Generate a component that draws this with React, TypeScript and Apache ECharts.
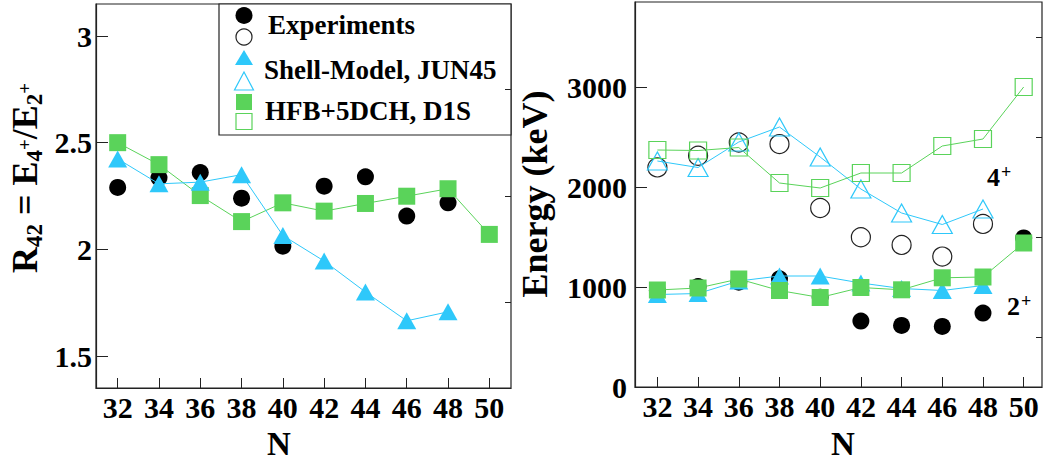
import React, { useEffect, useRef } from 'react';
import * as echarts from 'echarts';

const FONT = 'Liberation Serif';
const CYAN = '#2ec8fa';
const GREEN = '#5ad35a';

// Neutron numbers
const N = [32, 34, 36, 38, 40, 42, 44, 46, 48, 50];
const xTicks = [32, 34, 36, 38, 40, 42, 44, 46, 48, 50];

// Left panel: R42 = E(4+)/E(2+)
const r42Exp = [2.29, 2.335, 2.36, 2.24, 2.015, 2.296, 2.34, 2.156, 2.218, null];
const r42SM = [2.424, 2.307, 2.315, 2.35, 2.065, 1.945, 1.8, 1.665, 1.707, null];
const r42HFB = [2.5, 2.397, 2.252, 2.13, 2.218, 2.179, 2.215, 2.249, 2.284, 2.07];
const r42Major = [1.5, 2, 2.5, 3];
const r42Minor = [1.75, 2.25, 2.75];

// Right panel: energies (keV)
const e2Exp = [965, 1005, 1048, 1082, 898, 659, 616, 606, 739, 1491];
const e4Exp = [2196, 2312, 2445, 2429, 1790, 1497, 1421, 1304, 1631, null];
const e2SM = [925, 935, 1060, 1110, 1110, 1040, 985, 965, 1015, null];
const e4SM = [2260, 2195, 2450, 2600, 2300, 1980, 1740, 1625, 1780, null];
const e2HFB = [970, 990, 1080, 965, 895, 995, 972, 1092, 1100, 1440];
const e4HFB = [2370, 2365, 2395, 2040, 1990, 2140, 2140, 2410, 2480, 3000];
const eMajor = [0, 1000, 2000, 3000];
const eMinor = [500, 1500, 2500, 3500];

const legendLabels = ['Experiments', 'Shell-Model, JUN45', 'HFB+5DCH, D1S'];

const pairs = (ys: (number | null)[]) =>
  N.map((n, i) => [n, ys[i]]).filter((p) => p[1] !== null);

function measure(text: string, size: number) {
  const c = document.createElement('canvas').getContext('2d')!;
  c.font = `bold ${size}px "${FONT}"`;
  return c.measureText(text).width;
}

const txt = (x: number, y: number, text: string, size: number, align = 'left', extra: any = {}, lh?: number) => ({
  type: 'text',
  x,
  y,
  ...extra,
  style: {
    text,
    fill: '#000',
    fontSize: size,
    fontWeight: 'bold',
    fontFamily: FONT,
    align,
    verticalAlign: 'middle',
    textAlign: align,
    textVerticalAlign: 'middle',
    ...(lh ? { lineHeight: lh } : {}),
  },
});

export default function App() {
  const ref = useRef<HTMLDivElement>(null);

  useEffect(() => {
    const chart = echarts.init(ref.current!, undefined, { renderer: 'svg' });

    const labelStyle = { color: '#000', fontSize: 30, fontWeight: 'bold', fontFamily: FONT };
    const axisLine = { show: true, lineStyle: { color: '#222', width: 1.2 } };
    const plain = (v: number) => String(v);

    const xAxisCommon = (grid: number, min: number, max: number) => ({
      type: 'value',
      gridIndex: grid,
      min,
      max,
      axisLine,
      splitLine: { show: false },
      axisTick: { show: true, inside: true, length: 10, customValues: xTicks, lineStyle: { color: '#222' } },
      axisLabel: { ...labelStyle, margin: 4, customValues: xTicks, formatter: plain },
    });

    // y label with subscripts, built from pieces
    const pieces = [
      { t: 'R', s: 36, dy: 0 },
      { t: '42', s: 23, dy: 9 },
      { t: ' = E', s: 36, dy: 0 },
      { t: '4', s: 23, dy: 9 },
      { t: '+', s: 19, dy: -1 },
      { t: '/E', s: 36, dy: 0 },
      { t: '2', s: 23, dy: 9 },
      { t: '+', s: 19, dy: -1 },
    ];
    const widths = pieces.map((p) => measure(p.t, p.s));
    const total = widths.reduce((a, b) => a + b, 0);
    let cur = -total / 2;
    const yLabelChildren = pieces.map((p, i) => {
      const el = txt(cur, p.dy, p.t, p.s, 'left');
      cur += widths[i];
      return el;
    });

    const mx = 244;
    const legendGraphics: any[] = [
      { type: 'rect', shape: { x: 219, y: 4, width: 292, height: 131 }, style: { fill: '#fff', stroke: '#222', lineWidth: 1.2 } },
      { type: 'circle', shape: { cx: mx, cy: 15.5, r: 8.5 }, style: { fill: '#000' } },
      { type: 'circle', shape: { cx: mx, cy: 37, r: 8 }, style: { fill: 'none', stroke: '#222', lineWidth: 1.2 } },
      { type: 'polygon', shape: { points: [[mx, 50], [mx + 9, 65], [mx - 9, 65]] }, style: { fill: CYAN } },
      { type: 'polygon', shape: { points: [[mx, 72], [mx + 9.5, 90], [mx - 9.5, 90]] }, style: { fill: 'none', stroke: CYAN, lineWidth: 1.2 } },
      { type: 'rect', shape: { x: mx - 8, y: 94, width: 16, height: 16 }, style: { fill: GREEN } },
      { type: 'rect', shape: { x: mx - 8, y: 113.5, width: 16, height: 16 }, style: { fill: 'none', stroke: GREEN, lineWidth: 1.2 } },
      txt(268, 24.5, legendLabels[0], 27),
      txt(264, 70, legendLabels[1], 27),
      txt(265, 111, legendLabels[2], 27),
    ];

    const option: any = {
      animation: false,
      backgroundColor: '#fff',
      textStyle: { fontFamily: FONT },
      grid: [
        { left: 96, top: 4, width: 415, height: 384, show: true, borderColor: '#222', borderWidth: 1.2, backgroundColor: 'transparent' },
        { left: 635, top: 2, width: 407, height: 385, show: true, borderColor: '#222', borderWidth: 1.2, backgroundColor: 'transparent' },
      ],
      xAxis: [xAxisCommon(0, 30.95, 51.05), xAxisCommon(1, 30.9, 50.9)],
      yAxis: [
        {
          type: 'value', gridIndex: 0, min: 1.35, max: 3.15, axisLine, splitLine: { show: false },
          axisTick: { show: true, inside: true, length: 12, customValues: r42Major, lineStyle: { color: '#222' } },
          axisLabel: { ...labelStyle, margin: 4, customValues: r42Major, formatter: plain },
        },
        {
          type: 'value', gridIndex: 0, min: 1.35, max: 3.15, axisLine: { show: false }, splitLine: { show: false },
          axisTick: { show: true, inside: true, length: 6, customValues: r42Minor, lineStyle: { color: '#222' } },
          axisLabel: { show: false },
        },
        {
          type: 'value', gridIndex: 1, min: 0, max: 3850, axisLine, splitLine: { show: false },
          axisTick: { show: true, inside: true, length: 12, customValues: eMajor, lineStyle: { color: '#222' } },
          axisLabel: { ...labelStyle, margin: 8, customValues: eMajor, formatter: plain },
        },
        {
          type: 'value', gridIndex: 1, min: 0, max: 3850, axisLine: { show: false }, splitLine: { show: false },
          axisTick: { show: true, inside: true, length: 6, customValues: eMinor, lineStyle: { color: '#222' } },
          axisLabel: { show: false },
        },
      ],
      series: [
        // Left panel
        {
          name: 'HFB R42', type: 'line', xAxisIndex: 0, yAxisIndex: 0, data: pairs(r42HFB),
          symbol: 'rect', symbolSize: 17, lineStyle: { color: GREEN, width: 1 }, itemStyle: { color: GREEN, opacity: 1 },
        },
        {
          name: 'Exp R42', type: 'scatter', xAxisIndex: 0, yAxisIndex: 0, data: pairs(r42Exp),
          symbol: 'circle', symbolSize: 17, itemStyle: { color: '#000', opacity: 1 },
        },
        {
          name: 'SM R42', type: 'line', xAxisIndex: 0, yAxisIndex: 0, data: pairs(r42SM),
          symbol: 'triangle', symbolSize: [19, 17], lineStyle: { color: CYAN, width: 1 }, itemStyle: { color: CYAN, opacity: 1 },
        },
        // Right panel
        {
          name: 'SM 2+', type: 'line', xAxisIndex: 1, yAxisIndex: 2, data: pairs(e2SM),
          symbol: 'triangle', symbolSize: [19, 17], lineStyle: { color: CYAN, width: 1 }, itemStyle: { color: CYAN, opacity: 1 },
        },
        {
          name: 'SM 4+', type: 'line', xAxisIndex: 1, yAxisIndex: 2, data: pairs(e4SM),
          symbol: 'triangle', symbolSize: [20, 18], lineStyle: { color: CYAN, width: 1 },
          itemStyle: { color: 'rgba(0,0,0,0)', borderColor: CYAN, borderWidth: 1.2, opacity: 1 },
        },
        {
          name: 'HFB 2+', type: 'line', xAxisIndex: 1, yAxisIndex: 2, data: pairs(e2HFB),
          symbol: 'rect', symbolSize: 17, lineStyle: { color: GREEN, width: 1 }, itemStyle: { color: GREEN, opacity: 1 },
        },
        {
          name: 'HFB 4+', type: 'line', xAxisIndex: 1, yAxisIndex: 2, data: pairs(e4HFB),
          symbol: 'rect', symbolSize: 17, lineStyle: { color: GREEN, width: 1 },
          itemStyle: { color: 'rgba(0,0,0,0)', borderColor: GREEN, borderWidth: 1.2, opacity: 1 },
        },
        {
          name: 'Exp 4+', type: 'scatter', xAxisIndex: 1, yAxisIndex: 2, data: pairs(e4Exp),
          symbol: 'circle', symbolSize: 19, itemStyle: { color: 'rgba(0,0,0,0)', borderColor: '#222', borderWidth: 1.2, opacity: 1 },
        },
        {
          name: 'Exp 2+', type: 'scatter', xAxisIndex: 1, yAxisIndex: 2, data: pairs(e2Exp),
          symbol: 'circle', symbolSize: 17, itemStyle: { color: '#000', opacity: 1 },
        },
      ],
      graphic: [
        ...legendGraphics,
        { type: 'group', x: 25, y: 178, rotation: Math.PI / 2, children: yLabelChildren },
        txt(535, 194, 'Energy (keV)', 36, 'center', { rotation: Math.PI / 2 }),
        txt(279, 444, 'N', 33, 'center', {}, 20),
        txt(843, 444, 'N', 33, 'center', {}, 20),
        txt(987, 177, '4', 26),
        txt(1001, 172, '+', 18),
        txt(1007, 306, '2', 26),
        txt(1021, 301, '+', 18),
      ],
    };

    chart.setOption(option);
    return () => chart.dispose();
  }, []);

  return (
    <div
      ref={ref}
      style={{ position: 'fixed', left: 0, top: 0, width: 1043, height: 461, background: '#fff' }}
    />
  );
}
